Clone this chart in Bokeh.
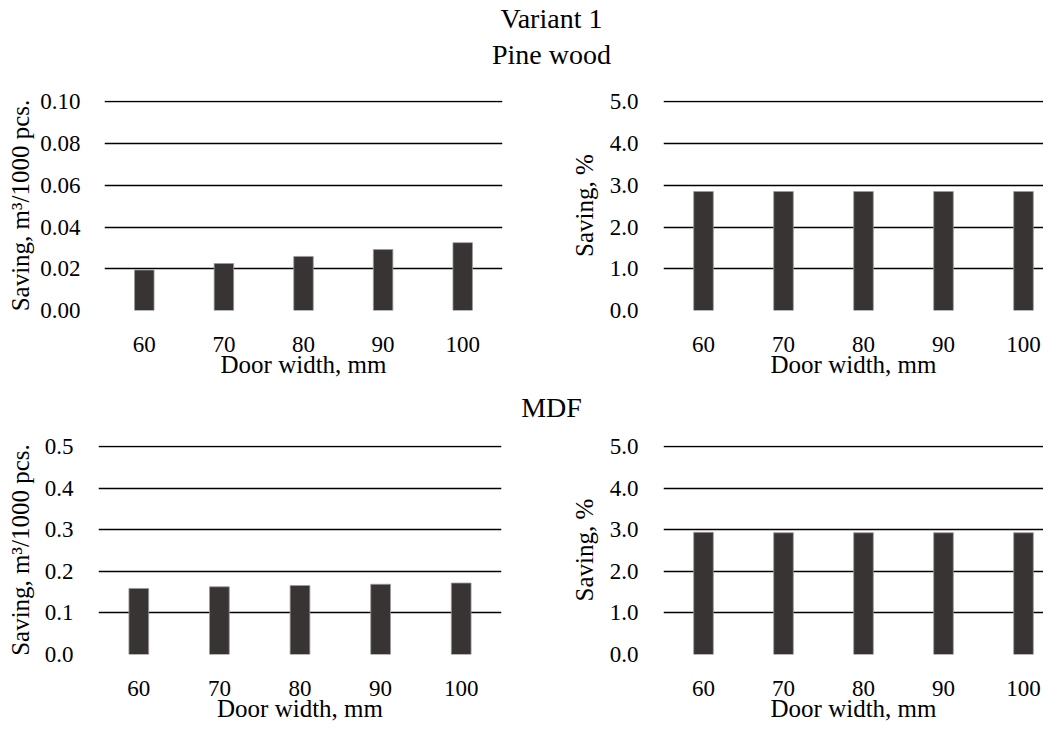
from bokeh.plotting import figure
from bokeh.layouts import column, row
from bokeh.models import Range1d, FixedTicker, NumeralTickFormatter, Label, ColumnDataSource
from bokeh.embed import file_html
from bokeh.resources import INLINE

# ---------------- data ----------------
door_widths = ["60", "70", "80", "90", "100"]
pine_volume = [0.0194, 0.0225, 0.0259, 0.0292, 0.0325]   # m3/1000 pcs
pine_percent = [2.85, 2.85, 2.85, 2.85, 2.85]             # %
mdf_volume = [0.159, 0.163, 0.166, 0.169, 0.172]          # m3/1000 pcs
mdf_percent = [2.94, 2.93, 2.93, 2.93, 2.93]              # %

pine_vol_ticks = [0.0, 0.02, 0.04, 0.06, 0.08, 0.10]
pct_ticks = [0.0, 1.0, 2.0, 3.0, 4.0, 5.0]
mdf_vol_ticks = [0.0, 0.1, 0.2, 0.3, 0.4, 0.5]

title_main = "Variant 1"
title_pine = "Pine wood"
title_mdf = "MDF"
x_title = "Door width, mm"
y_title_vol = "Saving, m\u00b3/1000 pcs."
y_title_pct = "Saving, %"

FONT = "Liberation Serif"
TXT = "#000000"
BAR_FILL = "#383434"
BAR_EDGE = "#9a9a9a"


def panel(values, ticks, fmt, ylabel, width, height, mbl, mbr, mbt, mbb,
          x_end, y_label_standoff, tick_standoff):
    span = ticks[-1] - ticks[0]
    p = figure(width=width, height=height, output_backend="svg",
               toolbar_location=None,
               x_range=Range1d(-0.5, x_end),
               y_range=Range1d(ticks[0], ticks[-1] + span * 0.006),
               min_border_left=mbl, min_border_right=mbr,
               min_border_top=mbt, min_border_bottom=mbb)
    p.outline_line_color = None
    p.background_fill_color = "white"
    p.border_fill_color = "white"
    xs = list(range(len(door_widths)))
    src = ColumnDataSource(dict(x=xs, top=values, cat=door_widths))
    p.vbar(x="x", top="top", bottom=0, width=0.245, source=src,
           fill_color=BAR_FILL, line_color=BAR_EDGE, line_width=0.8)

    p.xgrid.grid_line_color = None
    p.ygrid.grid_line_color = "#000000"
    p.ygrid.grid_line_width = 1.4
    p.ygrid.ticker = FixedTicker(ticks=ticks)

    xa = p.xaxis[0]
    xa.ticker = FixedTicker(ticks=xs)
    xa.major_label_overrides = {i: c for i, c in enumerate(door_widths)}
    xa.axis_label = x_title
    xa.major_label_standoff = 26
    xa.axis_label_standoff = -4

    ya = p.yaxis[0]
    ya.ticker = FixedTicker(ticks=ticks)
    ya.formatter = NumeralTickFormatter(format=fmt)
    ya.axis_label = ylabel
    ya.major_label_standoff = tick_standoff
    ya.axis_label_standoff = y_label_standoff

    for ax in (xa, ya):
        ax.axis_line_color = None
        ax.major_tick_line_color = None
        ax.minor_tick_line_color = None
        ax.major_tick_out = 0
        ax.major_tick_in = 0
        ax.major_label_text_font = FONT
        ax.major_label_text_font_size = "23px"
        ax.major_label_text_color = TXT
        ax.axis_label_text_font = FONT
        ax.axis_label_text_font_size = "25px"
        ax.axis_label_text_font_style = "normal"
        ax.axis_label_text_color = TXT
    return p


def header(texts, ys, height, width=1043, cx=551):
    p = figure(width=width, height=height, output_backend="svg",
               toolbar_location=None,
               x_range=Range1d(0, width), y_range=Range1d(height, 0),
               x_axis_location=None, y_axis_location=None,
               min_border_left=0, min_border_right=0,
               min_border_top=0, min_border_bottom=0)
    p.outline_line_color = None
    p.grid.grid_line_color = None
    p.border_fill_color = "white"
    for t, y in zip(texts, ys):
        p.add_layout(Label(x=cx, y=y, text=t, text_align="center",
                           text_baseline="middle", text_font=FONT,
                           text_font_size="28px", text_color=TXT))
    return p


head1 = header([title_main, title_pine], [17.5, 53.5], 86)
p_tl = panel(pine_volume, pine_vol_ticks, "0.00", y_title_vol,
             532, 300, 104, 30, 14, 76, 4.5, 3, 24)
p_tr = panel(pine_percent, pct_ticks, "0.0", y_title_pct,
             511, 300, 131, 0, 14, 76, 4.25, 9, 25)
head2 = header([title_mdf], [20.5], 45)
p_bl = panel(mdf_volume, mdf_vol_ticks, "0.0", y_title_vol,
             532, 293, 98, 31, 14, 69, 4.5, 8, 25)
p_br = panel(mdf_percent, pct_ticks, "0.0", y_title_pct,
             511, 293, 131, 0, 14, 69, 4.25, 9, 25)

layout = column(head1, row(p_tl, p_tr), head2, row(p_bl, p_br))

open("out.html", "w").write(file_html(layout, INLINE))
